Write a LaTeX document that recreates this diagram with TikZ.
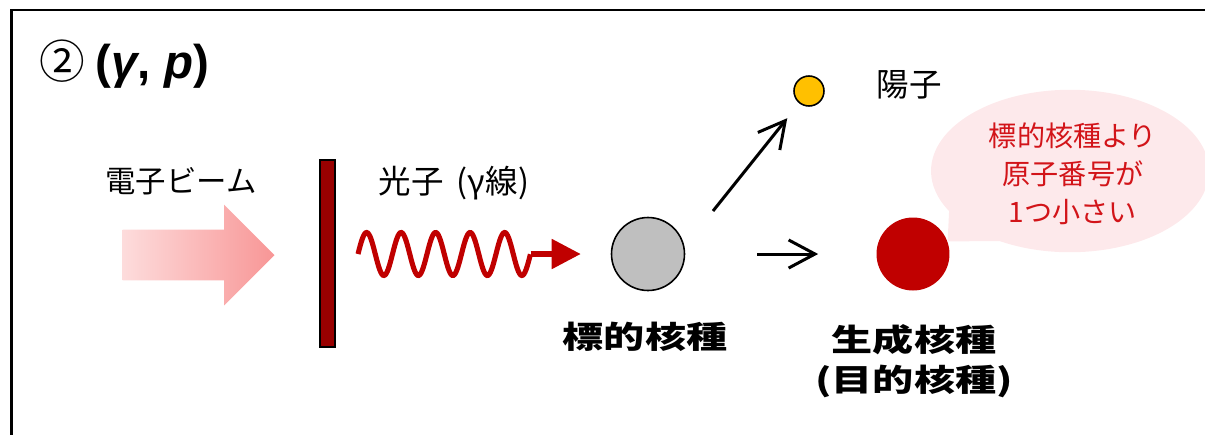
\documentclass[tikz,border=0pt]{standalone}
\usepackage{fontspec}
\usepackage{tikz}
\usetikzlibrary{shapes,shapes.arrows,shapes.callouts,arrows.meta,positioning}
\setmainfont{Noto Sans CJK JP}
\newfontfamily\latinfont{Liberation Sans}
\newfontfamily\widejp{Noto Sans CJK JP}[FakeStretch=1.33]
\definecolor{beam-light}{RGB}{253,220,220}
\definecolor{beam-dark}{RGB}{248,150,150}
\definecolor{foil-red}{RGB}{153,0,0}
\definecolor{photon-red}{RGB}{192,0,0}
\definecolor{nucleus-gray}{RGB}{191,191,191}
\definecolor{proton-yellow}{RGB}{255,192,0}
\definecolor{note-pink}{RGB}{253,233,235}
\definecolor{note-red}{RGB}{210,20,25}

\begin{document}
\begin{tikzpicture}[
        x=0.02cm, y=-0.02cm,
        txt/.style={inner sep=0pt, font=\fontsize{17.3}{20}\selectfont},
        caption/.style={inner sep=0pt, align=center, font=\widejp\bfseries\fontsize{17.6}{23}\selectfont},
        nucleus/.style={circle, inner sep=0pt, minimum size=1.46cm},
        arrow/.style={-{Straight Barb[length=15pt, width=16pt]}, line width=1.7pt},
        photon/.style={photon-red, line width=2.9pt}
    ]
        \useasboundingbox (0,0) rectangle (1205,434);

        % Frame, cut off at right and bottom
        \draw[line width=1.3pt] (11.5,450) -- (11.5,10) -- (1220,10);

        % Title
        \node[anchor=west, inner sep=0pt] (title) at (39,64)
            {\fontsize{26}{28}\selectfont ②\hspace{6pt}{\latinfont\bfseries\fontsize{27}{30}\selectfont (\textit{γ}, \textit{p})}};

        % Electron beam and converter foil
        \node[single arrow, anchor=tip, minimum height=3.04cm, single arrow head extend=0.5cm,
              inner xsep=0pt, inner ysep=0.5cm, left color=beam-light, right color=beam-dark] (beam) at (275,255) {};
        \node[txt] (beam-label) at (181,181) {電子ビーム};
        \node[draw, fill=foil-red, line width=0.8pt, minimum width=0.3cm, minimum height=3.74cm, inner sep=0pt] (foil) at (327.5,253.5) {};

        % Nuclei and proton
        \node[nucleus, draw, line width=0.9pt, fill=nucleus-gray] (target) at (648,254) {};
        \node[nucleus, fill=photon-red] (product) at (913,254) {};
        \node[circle, draw, line width=0.9pt, fill=proton-yellow, minimum size=0.6cm, inner sep=0pt] (proton) at (809,91) {};
        \node[txt, font=\fontsize{18.5}{20}\selectfont] (proton-label) at (909,85) {陽子};
        \node[caption] (target-name) at (645,337) {標的核種};
        \node[caption] (product-name) at (914,361) {生成核種\\(目的核種)};

        % Photon (gamma ray), five periods then a straight run
        \node[txt, font=\fontsize{18.5}{20}\selectfont] (photon-label) at (454,183) {光子\hspace{0.4em}(γ線)};
        \draw[photon] plot[domain=0:5, samples=160, smooth] (358+34.5*\x, {254-21.5*sin(360*\x)});
        \coordinate (wave-end) at (530.5,254);
        \draw[photon, -{Triangle[length=0.58cm, width=0.58cm]}, shorten >=0.6cm] (wave-end) -- (target);

        % Reaction products
        \coordinate (split) at (713,211);
        \draw[arrow, shorten >=0.38cm] (split) -- (proton);
        \draw[arrow, shorten <=1.44cm, shorten >=1.16cm] (target) -- (product);

        % Speech bubble
        \node[ellipse callout, fill=note-pink, minimum width=5.56cm, minimum height=3.25cm, inner sep=0pt,
              callout absolute pointer={(product.20)}, callout pointer arc=30] (note) at (1070,171) {};
        \node[inner sep=0pt, align=center, text=note-red, font=\fontsize{16}{21.5}\selectfont] (note-text) at (1073,174)
            {標的核種より\\原子番号が\\1つ小さい};
    \end{tikzpicture}
\end{document}
